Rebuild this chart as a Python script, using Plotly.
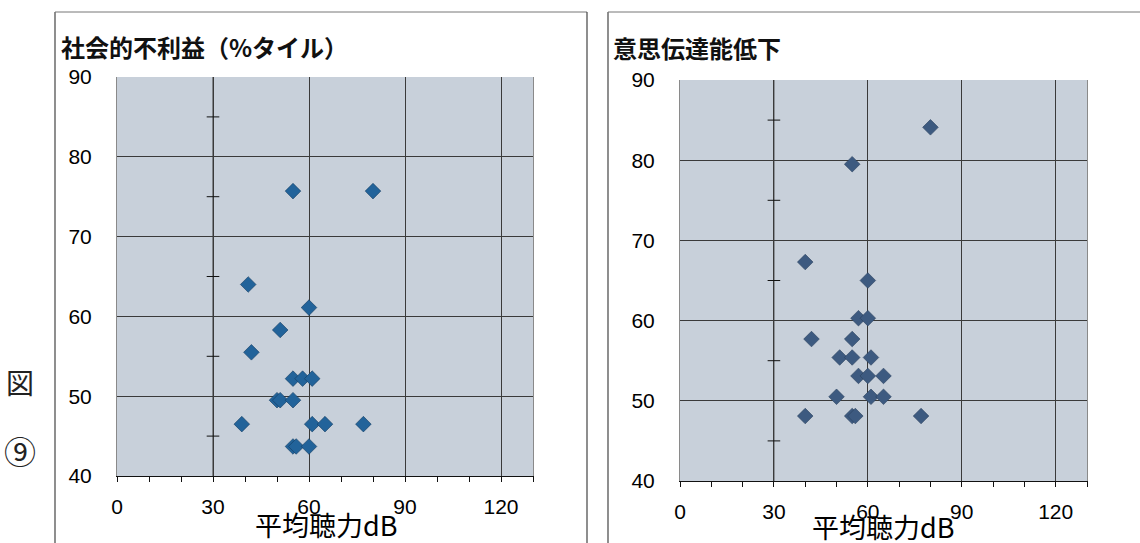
import plotly.graph_objects as go

W, H = 1140, 543

# ---------------- data ----------------
titles = ["社会的不利益（%タイル）", "意思伝達能低下"]
x_title = "平均聴力dB"
fig_label = ["図", "⑨"]

social_x = [55, 80, 41, 60, 51, 42, 55, 58, 61, 50, 51, 55, 39, 61, 65, 77, 55, 56, 60]
social_y = [75.7, 75.7, 64.0, 61.1, 58.3, 55.5, 52.2, 52.2, 52.2, 49.5, 49.5, 49.5,
            46.5, 46.5, 46.5, 46.5, 43.7, 43.7, 43.7]

comm_x = [80, 55, 40, 60, 57, 60, 42, 55, 51, 55, 61, 57, 60, 65, 50, 61, 65, 40, 55, 56, 77]
comm_y = [84.1, 79.5, 67.3, 65.0, 60.3, 60.3, 57.7, 57.7, 55.4, 55.4, 55.4, 53.1, 53.1, 53.1,
          50.5, 50.5, 50.5, 48.1, 48.1, 48.1, 48.1]

x_range = [0, 130]
y_range = [40, 90]
x_major = [0, 30, 60, 90, 120]
y_major = [40, 50, 60, 70, 80, 90]
y_cross_ticks = [45, 55, 65, 75, 85]
y_axis_cross = 30

# ---------------- layout helpers ----------------
def px_x(p):
    return p / W

def px_y(p):
    return 1 - p / H

left_dom_x = [px_x(117), px_x(533)]
left_dom_y = [px_y(476), px_y(77)]
right_dom_x = [px_x(680), px_x(1087)]
right_dom_y = [px_y(481), px_y(80)]

bg = "#c8d0da"
grid_c = "#3a3a3a"
num_font = dict(family="Liberation Sans, Arial", size=21, color="#000")

fig = go.Figure()

# tick crosses on the vertical axis line at x = 30 (Excel-style value axis crossing)
for xa, ya in [("x", "y"), ("x2", "y2")]:
    fig.add_trace(go.Scatter(x=[y_axis_cross] * len(y_cross_ticks), y=y_cross_ticks,
                             mode="markers", xaxis=xa, yaxis=ya, showlegend=False,
                             hoverinfo="skip",
                             marker=dict(symbol="line-ew", size=9,
                                         line=dict(width=1, color="#111"))))

fig.add_trace(go.Scatter(x=social_x, y=social_y, mode="markers", xaxis="x", yaxis="y",
                         marker=dict(symbol="diamond", size=12, color="#22639a",
                                     line=dict(width=0.6, color="#123a60")),
                         showlegend=False, hoverinfo="x+y"))
fig.add_trace(go.Scatter(x=comm_x, y=comm_y, mode="markers", xaxis="x2", yaxis="y2",
                         marker=dict(symbol="diamond", size=12, color="#3d5a80",
                                     line=dict(width=0.6, color="#2a3f5c")),
                         showlegend=False, hoverinfo="x+y"))


def xaxis_cfg(domain, anchor):
    return dict(domain=domain, anchor=anchor, range=x_range, tickmode="array",
                tickvals=x_major, showgrid=True, gridcolor=grid_c, gridwidth=1,
                showline=True, linecolor="#111", linewidth=1, ticks="outside",
                ticklen=5, tickcolor="#111",
                minor=dict(tickvals=[v for v in range(10, 131, 10) if v not in x_major],
                           ticks="outside", ticklen=5, tickcolor="#111", showgrid=False),
                tickfont=num_font, ticklabelstandoff=7, zeroline=False, fixedrange=True,
                automargin=False)


def yaxis_cfg(domain, anchor):
    return dict(domain=domain, anchor=anchor, range=y_range, tickmode="array",
                tickvals=y_major, showgrid=True, gridcolor=grid_c, gridwidth=1,
                showline=True, linecolor="#8a8a8a", linewidth=1, mirror=True,
                ticks="", tickfont=num_font, ticklabelstandoff=20, zeroline=False,
                fixedrange=True, automargin=False)


title_font = dict(family="Noto Sans CJK JP", size=24, color="#111", weight="bold")
xt_font = dict(family="Noto Sans CJK JP", size=27, color="#000")

annotations = [
    dict(text=titles[0], xref="paper", yref="paper", x=px_x(59), y=px_y(46),
         xanchor="left", yanchor="middle", showarrow=False, font=title_font),
    dict(text=titles[1], xref="paper", yref="paper", x=px_x(611), y=px_y(47),
         xanchor="left", yanchor="middle", showarrow=False, font=title_font),
    dict(text=x_title, xref="paper", yref="paper", x=px_x(326), y=px_y(524),
         xanchor="center", yanchor="middle", showarrow=False, font=xt_font),
    dict(text=x_title, xref="paper", yref="paper", x=px_x(883), y=px_y(526),
         xanchor="center", yanchor="middle", showarrow=False, font=xt_font),
    dict(text=fig_label[0], xref="paper", yref="paper", x=px_x(20), y=px_y(382),
         xanchor="center", yanchor="middle", showarrow=False,
         font=dict(family="Noto Sans CJK JP", size=28, color="#222")),
    dict(text=fig_label[1], xref="paper", yref="paper", x=px_x(20), y=px_y(450),
         xanchor="center", yanchor="middle", showarrow=False,
         font=dict(family="Noto Sans CJK JP", size=32, color="#222")),
]

panel_line = dict(color="#444", width=1.2)
shapes = [
    dict(type="line", xref="paper", yref="paper", x0=px_x(55), x1=px_x(55), y0=px_y(12), y1=0, line=panel_line),
    dict(type="line", xref="paper", yref="paper", x0=px_x(55), x1=px_x(587), y0=px_y(12), y1=px_y(12), line=dict(color="#777", width=1)),
    dict(type="line", xref="paper", yref="paper", x0=px_x(587), x1=px_x(587), y0=px_y(12), y1=0, line=panel_line),
    dict(type="line", xref="paper", yref="paper", x0=px_x(608), x1=px_x(608), y0=px_y(12), y1=0, line=panel_line),
    dict(type="line", xref="paper", yref="paper", x0=px_x(608), x1=1, y0=px_y(12), y1=px_y(12), line=dict(color="#777", width=1)),
    # vertical value-axis line at x = 30 in each panel
    dict(type="line", xref="x", yref="y domain", x0=y_axis_cross, x1=y_axis_cross, y0=0, y1=1,
         line=dict(color=grid_c, width=1), layer="below"),
    dict(type="line", xref="x2", yref="y2 domain", x0=y_axis_cross, x1=y_axis_cross, y0=0, y1=1,
         line=dict(color=grid_c, width=1), layer="below"),
]

fig.update_layout(
    width=W, height=H, margin=dict(l=0, r=0, t=0, b=0, autoexpand=False),
    paper_bgcolor="white", plot_bgcolor=bg, showlegend=False,
    xaxis=xaxis_cfg(left_dom_x, "y"),
    yaxis=yaxis_cfg(left_dom_y, "x"),
    xaxis2=xaxis_cfg(right_dom_x, "y2"),
    yaxis2=yaxis_cfg(right_dom_y, "x2"),
    annotations=annotations, shapes=shapes,
)

fig.write_html("out.html", config={"displayModeBar": False},
               post_script="document.body.style.margin='0px';document.body.style.overflow='hidden';")
